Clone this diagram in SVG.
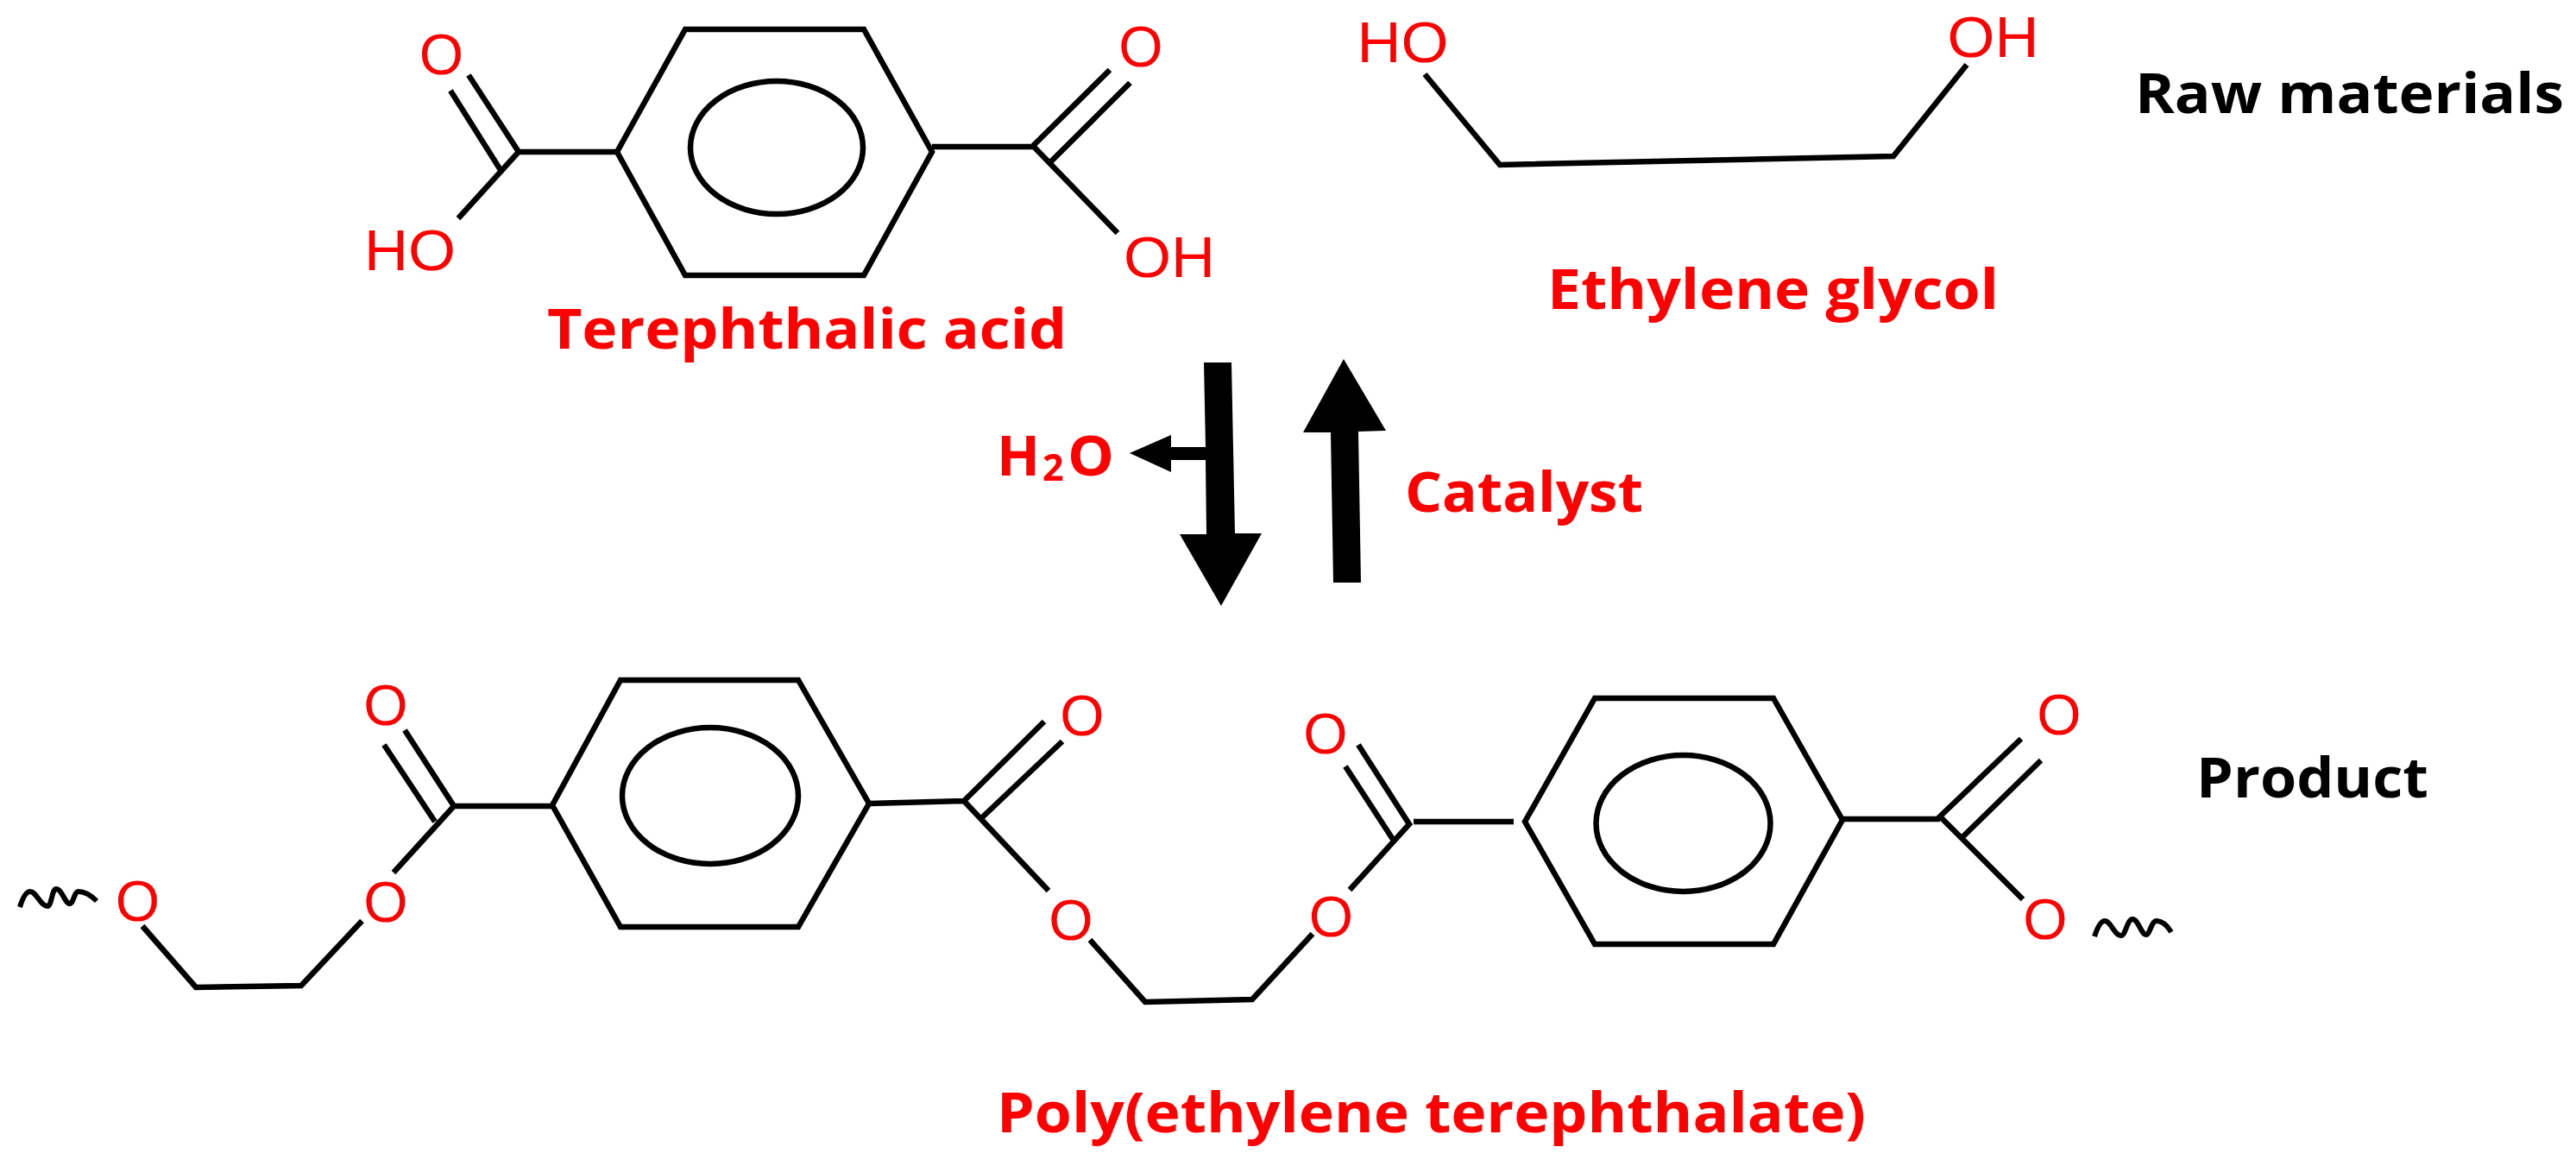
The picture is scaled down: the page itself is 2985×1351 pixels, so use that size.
<svg xmlns="http://www.w3.org/2000/svg" width="2985" height="1351" viewBox="0 0 2985 1351">
<style>
.b{fill:none;stroke:#000;stroke-width:6.500;stroke-linejoin:miter;stroke-linecap:butt}
.w{fill:none;stroke:#000;stroke-width:6;stroke-linejoin:round;stroke-linecap:butt}
.a{fill:#000;stroke:none}
.atom{font-family:"Liberation Sans",Arial,sans-serif;font-size:66px;fill:#f00;text-anchor:middle}
.lab{font-family:"Open Sans","Noto Sans",sans-serif;font-weight:700;font-size:65px}
.sub{font-size:43px}
.r{fill:#f00}
.k{fill:#000}
</style>
<rect width="2985" height="1351" fill="#fff"/>
<g id="terephthalic-acid">
<polygon class="b" points="794,34 1001,34 1080,176 1001,319 794,319 715,176"/>
<ellipse class="b" cx="900" cy="171" rx="100" ry="77"/>
<path class="b" d="M715,176H601M543,87L601,176L531,253M522,105L580,197M1080,170H1197M1286,81L1197,169L1295,270M1309.500,96L1218,187"/>
<text class="atom" x="511.500" y="86">O</text>
<text class="atom" x="475" y="313" textLength="106" lengthAdjust="spacingAndGlyphs">HO</text>
<text class="atom" x="1322" y="77">O</text>
<text class="atom" x="1355" y="321" textLength="106" lengthAdjust="spacingAndGlyphs">OH</text>
<text class="lab r" x="634" y="404" textLength="602" lengthAdjust="spacingAndGlyphs">Terephthalic acid</text>
</g>
<g id="ethylene-glycol">
<path class="b" d="M1651,86L1738,191L2194,181L2279,75"/>
<text class="atom" x="1625.500" y="72" textLength="106" lengthAdjust="spacingAndGlyphs">HO</text>
<text class="atom" x="2309.500" y="66" textLength="106" lengthAdjust="spacingAndGlyphs">OH</text>
<text class="lab r" x="1793" y="358" textLength="523" lengthAdjust="spacingAndGlyphs">Ethylene glycol</text>
</g>
<g id="raw-materials">
<text class="lab k" x="2474" y="131" textLength="497" lengthAdjust="spacingAndGlyphs">Raw materials</text>
</g>
<g id="water">
<text class="lab r" x="1155" y="551" textLength="50" lengthAdjust="spacingAndGlyphs">H</text>
<text class="lab r sub" x="1208" y="557">2</text>
<text class="lab r" x="1237" y="551" textLength="54" lengthAdjust="spacingAndGlyphs">O</text>
</g>
<g id="catalyst">
<text class="lab r" x="1628" y="593" textLength="276" lengthAdjust="spacingAndGlyphs">Catalyst</text>
</g>
<g id="connectors">
<polygon class="a" points="1395,420 1427,420 1431,618 1462,618 1415,702 1367,619 1398,619 1397,533 1357,533 1357,547 1309,525 1357,504 1357,518 1397,518"/>
<polygon class="a" points="1557,416 1606,499 1574,500 1577,675 1545,675 1542,501 1510,501"/>
</g>
<g id="pet-product">
<polygon class="b" points="719,788 925,788 1007,931 925,1074 719,1074 640,933"/>
<ellipse class="b" cx="823" cy="922" rx="102" ry="79"/>
<path class="b" d="M640,934H526M469,846L526,934L456,1011M445,863L504,952M419.500,1067L349,1142L227,1144L165,1073"/>
<text class="atom" x="447" y="840">O</text>
<text class="atom" x="447" y="1068">O</text>
<text class="atom" x="159.500" y="1067">O</text>
<path class="w" d="M23,1051C27,1038 31,1033 35,1033C42,1033 47,1050 55,1050C60,1050 60,1030 65,1030C72,1030 75,1047 81,1047C85,1047 86,1033 91,1033C98,1033 104,1036 112,1044"/>
<path class="b" d="M1007,931L1117,928M1210,836L1117,928L1215,1032M1231,859L1135,950M1263,1089L1327,1161L1451,1158L1521,1082M1564,1031L1633,955L1574,863M1559,888L1615,974M1638,952H1754"/>
<text class="atom" x="1254" y="852">O</text>
<text class="atom" x="1241" y="1089">O</text>
<text class="atom" x="1542.500" y="1085">O</text>
<text class="atom" x="1536" y="873">O</text>
<polygon class="b" points="1848,809 2055,809 2135,950 2055,1094 1848,1094 1767,952"/>
<ellipse class="b" cx="1950.500" cy="954" rx="101" ry="79"/>
<path class="b" d="M2135,949H2248M2342,856L2248,946L2344,1042M2365,881L2275,969"/>
<text class="atom" x="2386" y="851">O</text>
<text class="atom" x="2370" y="1088">O</text>
<path class="w" d="M2427,1085C2431,1073 2435,1067 2439,1067C2446,1067 2450,1084 2458,1084C2463,1084 2465,1065 2471,1065C2478,1065 2481,1083 2487,1083C2491,1083 2493,1067 2499,1067C2506,1067 2511,1072 2516,1080"/>
<text class="lab r" x="1155" y="1312" textLength="1007" lengthAdjust="spacingAndGlyphs">Poly(ethylene terephthalate)</text>
</g>
<g id="product">
<text class="lab k" x="2545" y="924" textLength="269" lengthAdjust="spacingAndGlyphs">Product</text>
</g>
</svg>
